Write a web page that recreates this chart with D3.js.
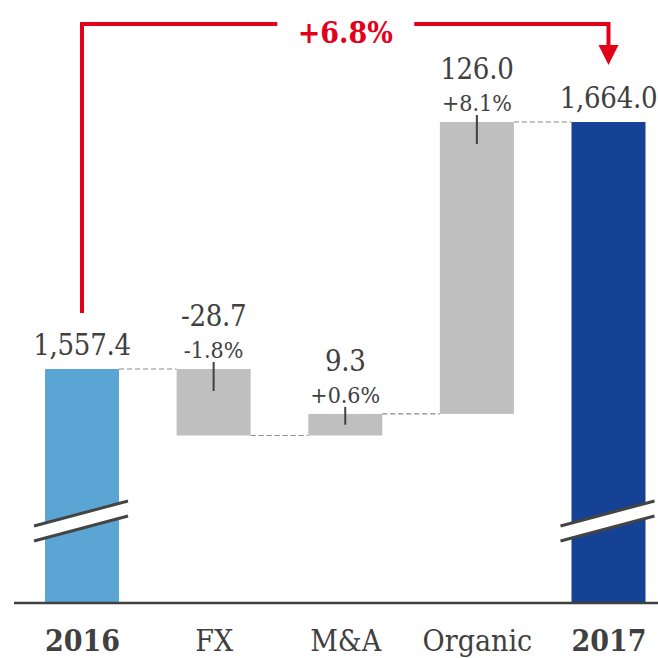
<!doctype html>
<html>
  <head>
    <meta charset="utf-8">
    <title>Waterfall</title>
    <script src="https://cdn.jsdelivr.net/npm/d3@7"></script>
    <style>
      body { margin: 0; background: #fff; }
      text { font-family: "DejaVu Serif Condensed", "DejaVu Serif", serif; font-stretch: condensed; fill: #404040; }
    </style>
  </head>
  <body>
    <script>
      const svgWidth = 658;
      const svgHeight = 658;

      // data
      const categories = ['2016', 'FX', 'M&A', 'Organic', '2017'];
      const values = [1557.4, -28.7, 9.3, 126.0, 1664.0];
      const percents = [null, '-1.8%', '+0.6%', '+8.1%', null];
      const isTotal = [true, false, false, false, true];
      const valueLabels = ['1,557.4', '-28.7', '9.3', '126.0', '1,664.0'];
      const totalChange = '+6.8%';

      // running totals -> start / end of each bar
      let running = 0;
      const bars = categories.map((c, i) => {
        let start, end;
        if (isTotal[i]) {
          start = null; end = values[i]; running = values[i];
        } else {
          start = running; end = running + values[i]; running = end;
        }
        return { cat: c, start, end, total: isTotal[i], pct: percents[i], label: valueLabels[i] };
      });

      const svg = d3.select('body').append('svg')
          .attr('width', svgWidth)
          .attr('height', svgHeight);

      const x = d3.scalePoint()
          .domain(categories)
          .range([82, 608.5]);
      const barW = 74;

      const y = d3.scaleLinear()
          .domain([1456.4, 1664])
          .range([603, 122]);
      const base = y.range()[0];

      const colors = { '2016': '#5ba5d4', '2017': '#164296' };

      // connectors
      const g = svg.append('g');
      bars.slice(0, -1).forEach((d, i) => {
        g.append('line')
          .attr('x1', x(d.cat) + barW / 2)
          .attr('x2', x(bars[i + 1].cat) - barW / 2)
          .attr('y1', y(d.end)).attr('y2', y(d.end))
          .attr('stroke', '#888').attr('stroke-width', 1.2)
          .attr('stroke-dasharray', '5,3');
      });

      // bars
      g.selectAll('rect.bar')
        .data(bars)
        .enter().append('rect')
          .attr('class', 'bar')
          .attr('x', d => x(d.cat) - barW / 2)
          .attr('width', barW)
          .attr('y', d => d.total ? y(d.end) : y(Math.max(d.start, d.end)))
          .attr('height', d => d.total ? base - y(d.end) : Math.abs(y(d.start) - y(d.end)))
          .attr('fill', d => colors[d.cat] || '#bfbfbf');

      // break marks on total bars
      bars.filter(d => d.total).forEach(d => {
        const cx = x(d.cat);
        g.append('polygon')
          .attr('points', [[cx - 48, 526], [cx + 46, 501], [cx + 46, 516], [cx - 48, 541]].join(' '))
          .attr('fill', '#fff');
        [[526, 501], [541, 516]].forEach(([a, b]) => {
          g.append('line')
            .attr('x1', cx - 48).attr('y1', a)
            .attr('x2', cx + 46).attr('y2', b)
            .attr('stroke', '#444').attr('stroke-width', 3);
        });
      });

      // small ticks inside delta bars
      bars.filter(d => !d.total).forEach(d => {
        const top = y(Math.max(d.start, d.end));
        const h = Math.abs(y(d.start) - y(d.end));
        g.append('line')
          .attr('x1', x(d.cat)).attr('x2', x(d.cat))
          .attr('y1', top - 7).attr('y2', top + Math.min(22, h / 2))
          .attr('stroke', '#404040').attr('stroke-width', 2);
      });

      // value labels
      bars.forEach(d => {
        const top = d.total ? y(d.end) : y(Math.max(d.start, d.end));
        g.append('text')
          .attr('x', x(d.cat))
          .attr('y', d.total ? top - 14 : top - 43)
          .attr('text-anchor', 'middle')
          .style('font-size', '29px')
          .style('letter-spacing', '-0.3px')
          .text(d.label);
        if (d.pct) {
          g.append('text')
            .attr('x', x(d.cat))
            .attr('y', top - 11)
            .attr('text-anchor', 'middle')
            .style('font-size', '23px')
            .text(d.pct);
        }
      });

      // baseline
      svg.append('line')
        .attr('x1', 14).attr('x2', svgWidth)
        .attr('y1', base).attr('y2', base)
        .attr('stroke', '#404040').attr('stroke-width', 2.5);

      // category labels
      const axis = svg.append('g')
        .attr('transform', `translate(0,${base})`)
        .call(d3.axisBottom(x).tickSize(0).tickPadding(27));
      axis.select('.domain').remove();
      axis.selectAll('text')
        .style('font-family', '"DejaVu Serif Condensed", "DejaVu Serif", serif')
        .style('font-size', '30px')
        .style('fill', '#404040')
        .style('font-weight', d => isTotal[categories.indexOf(d)] ? 'bold' : 'normal');

      // total change bracket
      const red = '#e2001a';
      const xl = x(categories[0]), xr = x(categories[categories.length - 1]);
      const mid = (xl + xr) / 2;
      const yb = 24;
      svg.append('path')
        .attr('d', `M${xl},${y(values[0]) - 56}V${yb}H${mid - 68}`)
        .attr('fill', 'none').attr('stroke', red).attr('stroke-width', 4);
      svg.append('path')
        .attr('d', `M${mid + 69},${yb}H${xr}V${47}`)
        .attr('fill', 'none').attr('stroke', red).attr('stroke-width', 4);
      svg.append('path')
        .attr('d', `M${xr - 10},45L${xr + 10},45L${xr},65Z`)
        .attr('fill', red);
      svg.append('text')
        .attr('x', mid).attr('y', 43)
        .attr('text-anchor', 'middle')
        .style('font-size', '30px').style('font-weight', 'bold')
        .style('fill', red)
        .text(totalChange);
    </script>
  </body>
</html>
